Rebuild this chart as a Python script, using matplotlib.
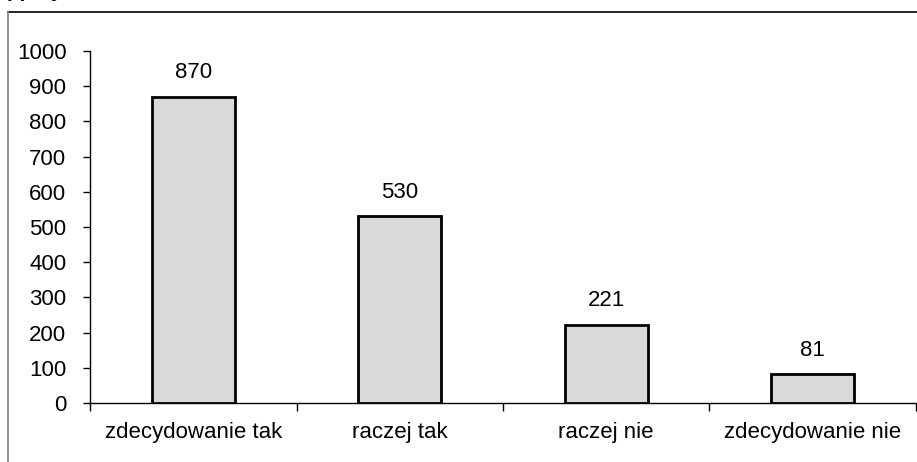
import matplotlib
matplotlib.use("Agg")
import matplotlib.pyplot as plt
from matplotlib.lines import Line2D

plt.rcParams['font.family'] = ['Liberation Sans', 'DejaVu Sans']

categories = ["zdecydowanie tak", "raczej tak", "raczej nie", "zdecydowanie nie"]
values = [870, 530, 221, 81]
y_ticks = [0, 100, 200, 300, 400, 500, 600, 700, 800, 900, 1000]
title_text = "ę przydatność szkolenia"

W, H = 917, 462
fig = plt.figure(figsize=(W / 100, H / 100), dpi=100)

# outer chart frame (extends past right and bottom edges)
fig.add_artist(Line2D([8 / W, 1.0], [1 - 12 / H, 1 - 12 / H], color="black", lw=1.2))
fig.add_artist(Line2D([8 / W, 8 / W], [0.0, 1 - 12 / H], color="#7f7f7f", lw=1.2))

# heading, mostly above the top edge so only its lowest strokes show
fig.text(2 / W, 1 + 3 / H, title_text, fontsize=15, fontweight="bold",
         ha="left", va="baseline")

ax = fig.add_axes([90 / W, 59 / H, 826 / W, 352 / H])
x = range(len(categories))
ax.bar(x, values, width=0.4, color="#d9d9d9", edgecolor="black", linewidth=2, zorder=3)

for xi, v in zip(x, values):
    ax.annotate(str(v), (xi, v), xytext=(0, 10), textcoords="offset points",
                ha="center", va="bottom", fontsize=16)

ax.set_xlim(-0.5, len(categories) - 0.5)
ax.set_ylim(0, 1000)
ax.set_yticks(y_ticks)
ax.set_yticklabels([str(t) for t in y_ticks], fontsize=16)
ax.tick_params(axis="y", direction="out", length=5, width=1, pad=12)

ax.set_xticks(list(x))
ax.set_xticklabels(categories, fontsize=16)
ax.set_xticks([i - 0.5 for i in range(len(categories) + 1)], minor=True)
ax.tick_params(axis="x", which="major", length=0, pad=14)
ax.tick_params(axis="x", which="minor", direction="out", length=6, width=1)

for side in ("top", "right"):
    ax.spines[side].set_visible(False)
for side in ("left", "bottom"):
    ax.spines[side].set_linewidth(1)

fig.savefig("out.png", dpi=100)
